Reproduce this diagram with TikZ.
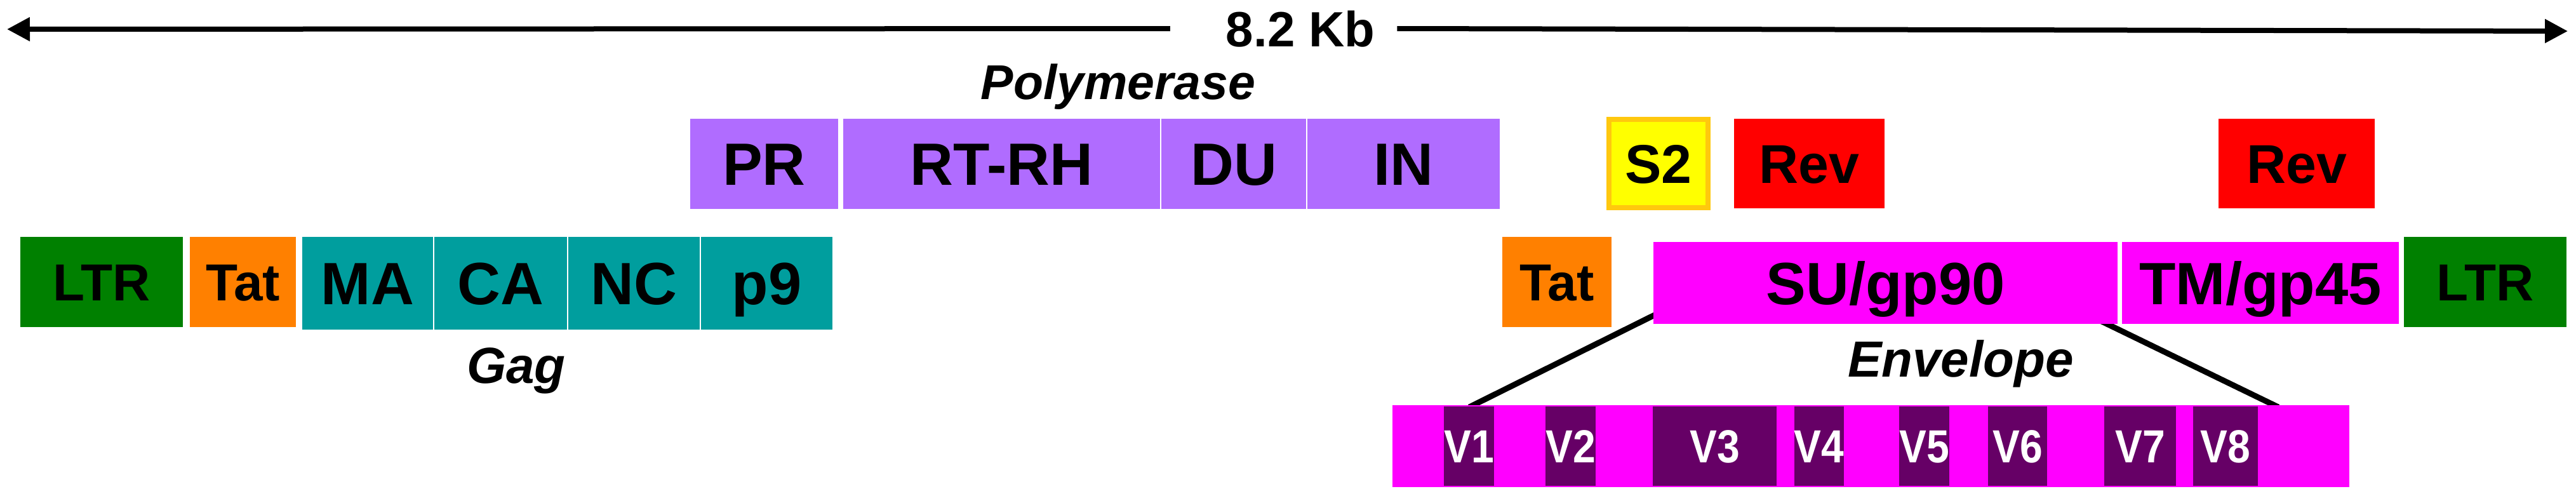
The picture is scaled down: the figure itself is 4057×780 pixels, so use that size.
\documentclass[tikz,border=0pt]{standalone}
\usepackage{fontspec}
\setmainfont{Liberation Sans}
\newfontfamily\vfont[FakeStretch=0.88]{Liberation Sans}
\usetikzlibrary{arrows.meta,calc}
\definecolor{ltrc}{RGB}{0,128,0}
\definecolor{tatc}{RGB}{255,128,0}
\definecolor{gagc}{RGB}{0,158,158}
\definecolor{polc}{RGB}{176,108,255}
\definecolor{s2c}{RGB}{255,255,0}
\definecolor{s2b}{RGB}{255,200,14}
\definecolor{revc}{RGB}{255,0,0}
\definecolor{envc}{RGB}{255,0,255}
\definecolor{vc}{RGB}{102,0,102}
\pgfdeclarelayer{bg}
\pgfsetlayers{bg,main}
\begin{document}
\begin{tikzpicture}[x=1pt,y=-1pt,
  box/.style={inner sep=0pt, outer sep=0pt, font=\fontsize{94}{94}\selectfont\bfseries, text height=67pt, text depth=0pt},
  midbox/.style={box, font=\fontsize{82}{82}\selectfont\bfseries, text height=59pt},
  accbox/.style={box, font=\fontsize{86}{86}\selectfont\bfseries, text height=62pt},
  vband/.style={inner sep=0pt, outer sep=0pt, fill=vc, minimum height=125pt, text=white, font=\fontsize{73}{73}\selectfont\vfont\bfseries, text height=52pt, text depth=0pt},
  title/.style={inner sep=0pt, font=\fontsize{80}{80}\selectfont\bfseries\itshape, anchor=base},
  envline/.style={line width=9pt},
  sizearrow/.style={line width=8pt, -{Triangle[length=36pt,width=36pt]}}
]
\useasboundingbox (0,0) rectangle (4057,780);

% scale bar
\node[inner sep=0pt, font=\fontsize{78}{78}\selectfont\bfseries, text height=56pt, text depth=0pt] (kb) at (2048,45) {8.2 Kb};
\coordinate (Ltip) at (11,46);
\coordinate (Rtip) at (4044,49);
\draw[sizearrow] ([xshift=-88pt]kb.west) -- (Ltip);
\draw[sizearrow] ([xshift=35pt]kb.east) -- (Rtip);

% labels
\node[title, font=\fontsize{77}{77}\selectfont\bfseries\itshape] (pol) at (1761,156) {Polymerase};
\node[title] (gag) at (813,603) {Gag};
\node[title] (env) at (3088,593) {Envelope};

% row 1
\node[midbox, fill=ltrc, minimum width=256pt, minimum height=142pt] (ltr1) at (160,444) {LTR};
\node[midbox, fill=tatc, minimum width=167pt, minimum height=142pt] (tat1) at (382.5,444) {Tat};
\node[box, fill=gagc, minimum width=206pt, minimum height=146pt] (ma) at (579,446) {MA};
\node[box, fill=gagc, minimum width=209pt, minimum height=146pt] (ca) at (788.5,446) {CA};
\node[box, fill=gagc, minimum width=207pt, minimum height=146pt] (nc) at (998.5,446) {NC};
\node[box, fill=gagc, minimum width=207pt, minimum height=146pt] (p9) at (1207.5,446) {p9};

% polymerase row
\node[box, fill=polc, minimum width=233pt, minimum height=142pt] (pr) at (1203.5,258) {PR};
\node[box, fill=polc, minimum width=499pt, minimum height=142pt] (rt) at (1577.5,258) {RT-RH};
\node[box, fill=polc, minimum width=228pt, minimum height=142pt] (du) at (1943,258) {DU};
\node[box, fill=polc, minimum width=303pt, minimum height=142pt] (in) at (2210.5,258) {IN};

% accessory
\node[accbox, fill=s2c, draw=s2b, line width=8pt, minimum width=156pt, minimum height=139pt] (s2) at (2612,257.5) {S2};
\node[accbox, fill=revc, minimum width=237pt, minimum height=141pt] (rev1) at (2849.5,257.5) {Rev};
\node[accbox, fill=revc, minimum width=246pt, minimum height=141pt] (rev2) at (3617,257.5) {Rev};

% right part of row 1
\node[midbox, fill=tatc, minimum width=172pt, minimum height=142pt] (tat2) at (2452,444) {Tat};
\node[box, fill=envc, minimum width=731pt, minimum height=129pt] (su) at (2969.5,445.5) {SU/gp90};
\node[box, fill=envc, minimum width=436pt, minimum height=129pt] (tm) at (3560,445.5) {TM/gp45};
\node[midbox, fill=ltrc, minimum width=256pt, minimum height=142pt] (ltr2) at (3914,444) {LTR};

% variable regions
\node[inner sep=0pt, outer sep=0pt, fill=envc, minimum width=1507pt, minimum height=129pt] (vbar) at (2946.5,702.5) {};
\node[vband, minimum width=79pt] (v1) at (2313.5,702.5) {V1};
\node[vband, minimum width=59pt] (v2) at (2473.5,702.5) {V2};
\node[vband, minimum width=195pt] (v3) at (2700.5,702.5) {V3};
\node[vband, minimum width=66pt] (v4) at (2865,702.5) {V4};
\node[vband, minimum width=77pt] (v5) at (3030.5,702.5) {V5};
\node[vband, minimum width=93pt] (v6) at (3177.5,702.5) {V6};
\node[vband, minimum width=113pt] (v7) at (3370.5,702.5) {V7};
\node[vband, minimum width=102pt] (v8) at (3505,702.5) {V8};

% zoom lines
\coordinate (sl) at (2640,479);
\coordinate (sr) at (3277,490);
\coordinate (vl) at (2314,641);
\coordinate (vr) at (3588,641);
\begin{pgfonlayer}{bg}
\draw[envline] (sl) -- (vl);
\draw[envline] (sr) -- (vr);
\end{pgfonlayer}
\end{tikzpicture}
\end{document}
